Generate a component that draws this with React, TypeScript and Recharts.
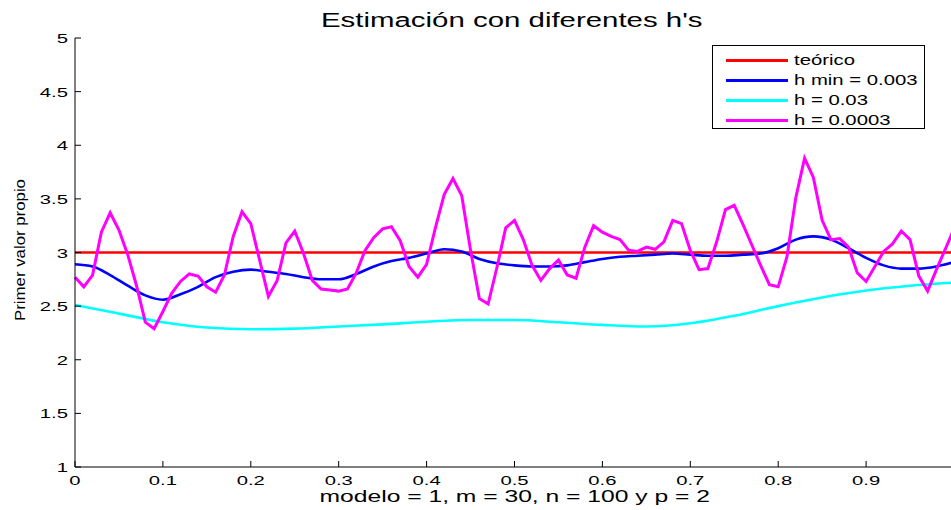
import { LineChart, Line, XAxis, YAxis } from "recharts";

const FONT = '"Liberation Sans", Arial, Helvetica, sans-serif';
// the reference text is stretched horizontally
const STRETCH = 1.5;

// h = 0.0003, sampled every 0.01 on [0, 1]
const magenta = [
  2.77, 2.68, 2.79, 3.19, 3.37, 3.21, 2.98, 2.69, 2.35, 2.29,
  2.45, 2.62, 2.73, 2.8, 2.78, 2.68, 2.63, 2.79, 3.15, 3.38,
  3.27, 2.93, 2.59, 2.74, 3.09, 3.2, 2.99, 2.74, 2.66, 2.65,
  2.64, 2.66, 2.81, 3.02, 3.14, 3.22, 3.24, 3.11, 2.87, 2.77,
  2.89, 3.23, 3.54, 3.69, 3.53, 3.02, 2.57, 2.52, 2.86, 3.23,
  3.3, 3.12, 2.88, 2.74, 2.85, 2.93, 2.79, 2.76, 3.05, 3.25,
  3.19, 3.15, 3.12, 3.02, 3.01, 3.05, 3.03, 3.1, 3.3, 3.27,
  3.02, 2.84, 2.85, 3.1, 3.4, 3.44, 3.26, 3.07, 2.88, 2.7,
  2.68, 2.96, 3.51, 3.88, 3.7, 3.3, 3.12, 3.13, 3.05, 2.81,
  2.73, 2.87, 3.01, 3.08, 3.2, 3.12, 2.78, 2.64, 2.84, 3.03,
  3.22,
];

// h min = 0.003, sampled every 0.02
const blue = [
  2.89, 2.87, 2.79, 2.69, 2.6, 2.56, 2.61, 2.68, 2.77, 2.82,
  2.84, 2.82, 2.8, 2.77, 2.75, 2.75, 2.8, 2.87, 2.92, 2.95,
  2.99, 3.03, 3.01, 2.94, 2.9, 2.88, 2.87, 2.87, 2.88, 2.91,
  2.94, 2.96, 2.97, 2.98, 2.99, 2.98, 2.97, 2.97, 2.98, 2.99,
  3.04, 3.12, 3.15, 3.12, 3.04, 2.95, 2.88, 2.85, 2.85, 2.87,
  2.91,
];

// h = 0.03, sampled every 0.05
const cyan = [
  2.51, 2.43, 2.35, 2.3, 2.285, 2.29, 2.31, 2.33, 2.355, 2.37,
  2.37, 2.35, 2.325, 2.31, 2.34, 2.41, 2.5, 2.58, 2.645, 2.69,
  2.72,
];

const teorico = 3;

const xTicks = [0, 0.1, 0.2, 0.3, 0.4, 0.5, 0.6, 0.7, 0.8, 0.9];
const yTicks = [1, 1.5, 2, 2.5, 3, 3.5, 4, 4.5, 5];

const series = [
  { key: "teorico", name: "teórico", color: "#ff0000" },
  { key: "hmin", name: "h min = 0.003", color: "#0000ff" },
  { key: "h003", name: "h = 0.03", color: "#00ffff" },
  { key: "h0003", name: "h = 0.0003", color: "#ff00ff" },
];

const data = magenta.map((v, k) => ({
  x: k / 100,
  teorico,
  hmin: k % 2 === 0 ? blue[k / 2] : null,
  h003: k % 5 === 0 ? cyan[k / 5] : null,
  h0003: v,
}));

function BottomTick({ x, y, payload }: any) {
  return (
    <g>
      <line x1={x} y1={y} x2={x} y2={y - 6} stroke="#000" />
      <text
        transform={`translate(${x},${y + 18}) scale(${STRETCH},1)`}
        textAnchor="middle"
        fontSize={13.5}
        fontFamily={FONT}
        fill="#000"
      >
        {String(payload.value)}
      </text>
    </g>
  );
}

function TopTick({ x, y }: any) {
  return <line x1={x} y1={y} x2={x} y2={y + 6} stroke="#000" />;
}

function LeftTick({ x, y, payload }: any) {
  return (
    <g>
      <line x1={x} y1={y} x2={x + 6} y2={y} stroke="#000" />
      <text
        transform={`translate(${x - 7},${y + 5}) scale(${STRETCH},1)`}
        textAnchor="end"
        fontSize={13.5}
        fontFamily={FONT}
        fill="#000"
      >
        {String(payload.value)}
      </text>
    </g>
  );
}

function RightTick({ x, y }: any) {
  return <line x1={x} y1={y} x2={x - 6} y2={y} stroke="#000" />;
}

export default function App() {
  return (
    <div
      style={{
        position: "absolute",
        left: 0,
        top: 0,
        width: 951,
        height: 510,
        overflow: "hidden",
        background: "#fff",
        fontFamily: FONT,
      }}
    >
      <LineChart
        width={960}
        height={510}
        data={data}
        margin={{ top: 38, right: 6, left: 0, bottom: 0 }}
      >
        <XAxis
          dataKey="x"
          type="number"
          domain={[0, 1]}
          ticks={xTicks}
          height={43}
          tickSize={0}
          tickMargin={0}
          tickLine={false}
          axisLine={{ stroke: "#000" }}
          tick={<BottomTick />}
          interval={0}
        />
        <XAxis
          xAxisId="top"
          orientation="top"
          dataKey="x"
          type="number"
          domain={[0, 1]}
          ticks={xTicks}
          height={0}
          tickSize={0}
          tickMargin={0}
          tickLine={false}
          axisLine={{ stroke: "#000" }}
          tick={<TopTick />}
          interval={0}
        />
        <YAxis
          type="number"
          domain={[1, 5]}
          ticks={yTicks}
          width={75}
          tickSize={0}
          tickMargin={0}
          tickLine={false}
          axisLine={{ stroke: "#000" }}
          tick={<LeftTick />}
          interval={0}
          allowDataOverflow
        />
        <YAxis
          yAxisId="right"
          orientation="right"
          type="number"
          domain={[1, 5]}
          ticks={yTicks}
          width={0}
          tickSize={0}
          tickMargin={0}
          tickLine={false}
          axisLine={{ stroke: "#000" }}
          tick={<RightTick />}
          interval={0}
        />
        <Line dataKey="teorico" stroke="#ff0000" strokeWidth={2.6} dot={false} isAnimationActive={false} type="linear" />
        <Line dataKey="hmin" stroke="#0000ff" strokeWidth={2.6} dot={false} isAnimationActive={false} type="monotone" connectNulls />
        <Line dataKey="h003" stroke="#00ffff" strokeWidth={2.6} dot={false} isAnimationActive={false} type="monotone" connectNulls />
        <Line dataKey="h0003" stroke="#ff00ff" strokeWidth={3} dot={false} isAnimationActive={false} type="linear" />
      </LineChart>

      <div
        style={{
          position: "absolute",
          left: 0,
          width: 1024,
          top: 10,
          lineHeight: "20px",
          textAlign: "center",
          fontSize: 20,
          color: "#000",
          whiteSpace: "nowrap",
        }}
      >
        <span style={{ display: "inline-block", transform: "scaleX(1.47)" }}>
          Estimación con diferentes h's
        </span>
      </div>

      <div
        style={{
          position: "absolute",
          left: 0,
          width: 1030,
          top: 489,
          lineHeight: "16px",
          textAlign: "center",
          fontSize: 16,
          color: "#000",
          whiteSpace: "nowrap",
        }}
      >
        <span style={{ display: "inline-block", transform: "scaleX(1.54)" }}>
          modelo = 1, m = 30, n = 100 y p = 2
        </span>
      </div>

      <div
        style={{
          position: "absolute",
          left: 20,
          top: 250,
          transform: "translate(-50%, -50%) rotate(-90deg) scaleX(1.2)",
          whiteSpace: "nowrap",
          fontSize: 14,
          lineHeight: "14px",
          color: "#000",
        }}
      >
        Primer valor propio
      </div>

      <div
        style={{
          position: "absolute",
          left: 712,
          top: 45,
          width: 211,
          height: 82,
          border: "1px solid #000",
          background: "#fff",
        }}
      >
        {series.map((s, i) => (
          <div
            key={s.key}
            style={{
              position: "absolute",
              left: 13,
              top: 4 + i * 20,
              height: 20,
              display: "flex",
              alignItems: "center",
              fontSize: 14,
              color: "#000",
              whiteSpace: "nowrap",
            }}
          >
            <span
              style={{
                display: "inline-block",
                width: 62,
                height: 3,
                background: s.color,
                marginRight: 6,
              }}
            />
            <span
              style={{
                display: "inline-block",
                transform: "scaleX(1.45)",
                transformOrigin: "left center",
              }}
            >
              {s.name}
            </span>
          </div>
        ))}
      </div>
    </div>
  );
}
